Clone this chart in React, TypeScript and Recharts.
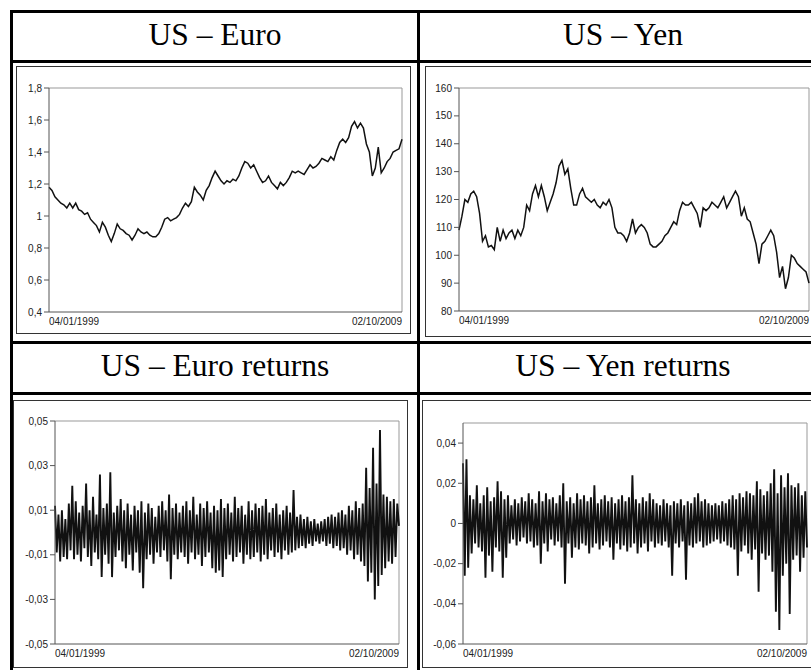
import React from 'react';
import { LineChart, Line, XAxis, YAxis, ReferenceLine } from 'recharts';

// first and last trading day shown on every x axis
const DATE_LABELS = ['04/01/1999', '02/10/2009'];

// US dollar / euro exchange rate (evenly spaced in time)
const euroLevels = [
  1.18, 1.16, 1.12, 1.1, 1.08, 1.07, 1.05, 1.08, 1.05, 1.08,
  1.04, 1.03, 1.01, 1.02, 0.98, 0.96, 0.94, 0.9, 0.96, 0.93,
  0.88, 0.84, 0.89, 0.95, 0.92, 0.91, 0.89, 0.88, 0.85, 0.88,
  0.92, 0.9, 0.89, 0.9, 0.88, 0.87, 0.87, 0.89, 0.93, 0.98,
  0.99, 0.97, 0.98, 0.99, 1.01, 1.05, 1.08, 1.06, 1.09, 1.18,
  1.15, 1.13, 1.1, 1.16, 1.19, 1.24, 1.28, 1.25, 1.22, 1.2,
  1.22, 1.21, 1.23, 1.22, 1.25, 1.3, 1.34, 1.33, 1.3, 1.32,
  1.28, 1.24, 1.21, 1.22, 1.25, 1.21, 1.19, 1.17, 1.21, 1.19,
  1.21, 1.24, 1.28, 1.27, 1.28, 1.27, 1.26, 1.29, 1.32, 1.3,
  1.31, 1.33, 1.36, 1.35, 1.34, 1.37, 1.35, 1.41, 1.46, 1.48,
  1.46, 1.49, 1.56, 1.59, 1.55, 1.58, 1.55, 1.45, 1.4, 1.25,
  1.3, 1.43, 1.27, 1.3, 1.34, 1.36, 1.4, 1.41, 1.42, 1.48,
];

// US dollar / yen exchange rate
const yenLevels = [
  109, 114, 120, 119, 122, 123, 121, 115, 105, 107,
  103, 103.5, 102, 110, 105, 109, 106, 108, 109, 106,
  109, 107, 110, 118, 116, 122, 125, 121, 125, 121,
  116, 119, 122, 126, 132, 134, 129, 131, 124, 118,
  118, 122, 124, 121, 120, 119, 120, 118, 117, 119,
  118, 120, 117, 110, 108, 108, 107, 105, 108, 113,
  108, 110, 111, 110, 108, 104, 103, 103, 104, 105,
  107, 108, 110, 112, 111, 116, 119, 118, 118, 119,
  117, 115, 110, 117, 116, 117, 119, 118, 117, 119,
  121, 117, 119, 121, 123, 121, 114, 117, 113, 112,
  108, 104, 97, 104, 105, 107, 109, 107, 101, 92,
  96, 88, 92, 100, 99, 97, 96, 95, 94, 90,
];

// daily log returns, US - Euro
const euroReturns = [
  0.012, -0.009, 0.008, -0.013, 0.01, -0.011, 0.006, -0.012, 0.013, -0.008,
  0.021, -0.012, 0.014, -0.01, 0.009, -0.013, 0.012, -0.007, 0.022, -0.011,
  0.01, -0.015, 0.016, -0.009, 0.008, -0.012, 0.026, -0.02, 0.011, -0.01,
  0.013, -0.014, 0.027, -0.02, 0.009, -0.011, 0.012, -0.008, 0.015, -0.013,
  0.01, -0.016, 0.013, -0.01, 0.008, -0.017, 0.012, -0.009, 0.01, -0.018,
  0.014, -0.025, 0.009, -0.012, 0.013, -0.01, 0.011, -0.014, 0.007, -0.009,
  0.012, -0.011, 0.014, -0.008, 0.01, -0.013, 0.017, -0.021, 0.011, -0.01,
  0.013, -0.012, 0.009, -0.009, 0.012, -0.011, 0.014, -0.014, 0.01, -0.009,
  0.016, -0.012, 0.008, -0.01, 0.013, -0.015, 0.011, -0.011, 0.014, -0.009,
  0.009, -0.016, 0.012, -0.018, 0.01, -0.017, 0.015, -0.02, 0.011, -0.012,
  0.013, -0.01, 0.009, -0.013, 0.016, -0.011, 0.011, -0.009, 0.012, -0.014,
  0.008, -0.01, 0.014, -0.012, 0.01, -0.011, 0.013, -0.009, 0.011, -0.013,
  0.012, -0.01, 0.015, -0.012, 0.009, -0.008, 0.011, -0.011, 0.013, -0.009,
  0.008, -0.012, 0.01, -0.008, 0.012, -0.01, 0.009, -0.009, 0.019, -0.008,
  0.007, -0.007, 0.008, -0.006, 0.006, -0.007, 0.007, -0.005, 0.005, -0.006,
  0.006, -0.004, 0.004, -0.005, 0.005, -0.004, 0.006, -0.006, 0.007, -0.005,
  0.008, -0.007, 0.007, -0.006, 0.009, -0.008, 0.01, -0.007, 0.008, -0.01,
  0.012, -0.008, 0.01, -0.012, 0.014, -0.01, 0.011, -0.013, 0.013, -0.015,
  0.029, -0.022, 0.02, -0.018, 0.038, -0.03, 0.022, -0.024, 0.046, -0.019,
  0.017, -0.016, 0.016, -0.013, 0.014, -0.014, 0.015, -0.011, 0.013, 0.003,
];

// daily log returns, US - Yen
const yenReturns = [
  0.03, -0.026, 0.032, -0.022, 0.014, -0.015, 0.012, -0.01, 0.019, -0.012,
  0.01, -0.014, 0.014, -0.027, 0.018, -0.016, 0.011, -0.024, 0.013, -0.012,
  0.021, -0.014, 0.016, -0.027, 0.012, -0.017, 0.014, -0.01, 0.009, -0.008,
  0.012, -0.011, 0.01, -0.009, 0.013, -0.007, 0.011, -0.01, 0.015, -0.009,
  0.012, -0.012, 0.01, -0.011, 0.016, -0.02, 0.011, -0.01, 0.015, -0.014,
  0.012, -0.008, 0.013, -0.011, 0.01, -0.009, 0.014, -0.012, 0.02, -0.03,
  0.011, -0.01, 0.013, -0.017, 0.01, -0.012, 0.015, -0.013, 0.012, -0.01,
  0.014, -0.011, 0.011, -0.015, 0.013, -0.012, 0.019, -0.01, 0.01, -0.013,
  0.012, -0.011, 0.014, -0.009, 0.011, -0.012, 0.013, -0.018, 0.01, -0.01,
  0.012, -0.013, 0.014, -0.011, 0.011, -0.014, 0.013, -0.012, 0.024, -0.01,
  0.012, -0.015, 0.01, -0.012, 0.013, -0.01, 0.011, -0.014, 0.015, -0.009,
  0.012, -0.012, 0.01, -0.01, 0.009, -0.011, 0.012, -0.009, 0.01, -0.012,
  0.009, -0.026, 0.011, -0.01, 0.01, -0.012, 0.012, -0.009, 0.009, -0.028,
  0.011, -0.011, 0.01, -0.012, 0.013, -0.01, 0.015, -0.009, 0.011, -0.012,
  0.012, -0.011, 0.01, -0.01, 0.009, -0.009, 0.01, -0.008, 0.009, -0.01,
  0.011, -0.009, 0.01, -0.011, 0.012, -0.012, 0.014, -0.013, 0.012, -0.026,
  0.015, -0.014, 0.013, -0.011, 0.016, -0.015, 0.015, -0.018, 0.014, -0.013,
  0.021, -0.034, 0.017, -0.015, 0.014, -0.018, 0.016, -0.016, 0.02, -0.024,
  0.027, -0.044, 0.015, -0.053, 0.024, -0.026, 0.018, -0.02, 0.025, -0.045,
  0.019, -0.018, 0.018, -0.016, 0.02, -0.024, 0.014, -0.017, 0.016, -0.012,
];

const euroTicks = [0.4, 0.6, 0.8, 1, 1.2, 1.4, 1.6, 1.8];
const yenTicks = [80, 90, 100, 110, 120, 130, 140, 150, 160];
const euroRetTicks = [-0.05, -0.03, -0.01, 0.01, 0.03, 0.05];
const yenRetTicks = [-0.06, -0.04, -0.02, 0, 0.02, 0.04];

const SANS = '"Liberation Sans", Arial, sans-serif';
const SERIF = '"Liberation Serif", "Times New Roman", serif';

// comma as decimal separator, like the original
const fmtComma = (v: number) => String(Number(v.toFixed(4))).replace('.', ',');

const DateTick = (props: any) => {
  const { x, y, payload } = props;
  const first = payload.value === 0;
  return (
    <text
      x={x}
      y={y + 13}
      textAnchor={first ? 'start' : 'end'}
      fontSize={10}
      fontFamily={SANS}
      fill="#222"
    >
      {first ? DATE_LABELS[0] : DATE_LABELS[1]}
    </text>
  );
};

interface PanelProps {
  values: number[];
  domain: [number, number];
  ticks: number[];
  left: number;
  top: number;
  width: number;
  height: number;
  marginTop: number;
  marginRight: number;
  yAxisWidth: number;
  xAxisHeight: number;
  strokeWidth: number;
}

const Panel: React.FC<PanelProps> = ({
  values, domain, ticks, left, top, width, height,
  marginTop, marginRight, yAxisWidth, xAxisHeight, strokeWidth,
}) => {
  const data = values.map((v, i) => ({ i, v }));
  const last = data.length - 1;
  return (
    <div style={{ position: 'absolute', left, top }}>
      <LineChart
        width={width}
        height={height}
        data={data}
        margin={{ top: marginTop, right: marginRight, bottom: 0, left: 0 }}
      >
        <XAxis
          dataKey="i"
          type="number"
          domain={[0, last]}
          ticks={[0, last]}
          interval={0}
          height={xAxisHeight}
          tickLine={false}
          tickSize={0}
          tickMargin={0}
          axisLine={{ stroke: '#555' }}
          tick={<DateTick />}
        />
        <YAxis
          type="number"
          domain={domain}
          ticks={ticks}
          interval={0}
          width={yAxisWidth}
          tickSize={5}
          tickMargin={2}
          tickLine={{ stroke: '#555' }}
          axisLine={{ stroke: '#555' }}
          tickFormatter={fmtComma}
          tick={{ fontSize: 10, fontFamily: SANS, fill: '#222' }}
          allowDataOverflow
        />
        <ReferenceLine y={domain[1]} stroke="#999" />
        <ReferenceLine x={last} stroke="#999" />
        <Line
          type="linear"
          dataKey="v"
          stroke="#111"
          strokeWidth={strokeWidth}
          strokeLinejoin="miter"
          dot={false}
          isAnimationActive={false}
        />
      </LineChart>
    </div>
  );
};

const rule = (left: number, top: number, width: number, height: number) => (
  <div style={{ position: 'absolute', left, top, width, height, background: '#000' }} />
);

const frame = (left: number, top: number, width: number, height: number) => (
  <div
    style={{
      position: 'absolute', left, top, width, height,
      border: '1px solid #333', boxSizing: 'border-box',
    }}
  />
);

const header = (text: string, left: number, width: number, top: number) => (
  <div
    style={{
      position: 'absolute', left, top, width, textAlign: 'center',
      fontFamily: SERIF, fontSize: 31.5, lineHeight: '31.5px', color: '#000',
    }}
  >
    {text}
  </div>
);

export default function App() {
  return (
    <div style={{ position: 'relative', width: 811, height: 670, overflow: 'hidden', background: '#fff' }}>
      <style>{'body{margin:0}'}</style>

      {rule(10, 10, 820, 3)}
      {rule(10, 10, 3, 670)}
      {rule(417, 10, 3, 670)}
      {rule(10, 60, 820, 3)}
      {rule(10, 341, 820, 3)}
      {rule(10, 392, 820, 3)}

      {header('US – Euro', 13, 404, 19)}
      {header('US – Yen', 420, 406, 19)}
      {header('US – Euro returns', 13, 404, 350)}
      {header('US – Yen returns', 420, 406, 350)}

      {frame(16, 66, 395, 268)}
      {frame(425, 66, 400, 271)}
      {frame(13, 400, 395, 268)}
      {frame(422, 400, 400, 268)}

      <Panel values={euroLevels} domain={[0.4, 1.8]} ticks={euroTicks}
        left={16} top={66} width={394} height={267}
        marginTop={22} marginRight={8} yAxisWidth={33} xAxisHeight={21} strokeWidth={1.5} />
      <Panel values={yenLevels} domain={[80, 160]} ticks={yenTicks}
        left={425} top={66} width={386} height={269}
        marginTop={22} marginRight={2} yAxisWidth={34} xAxisHeight={24} strokeWidth={1.5} />
      <Panel values={euroReturns} domain={[-0.05, 0.05]} ticks={euroRetTicks}
        left={13} top={400} width={394} height={267}
        marginTop={21} marginRight={8} yAxisWidth={42} xAxisHeight={23} strokeWidth={1.9} />
      <Panel values={yenReturns} domain={[-0.06, 0.05]} ticks={yenRetTicks}
        left={422} top={400} width={389} height={267}
        marginTop={23} marginRight={4} yAxisWidth={41} xAxisHeight={23} strokeWidth={1.9} />
    </div>
  );
}
